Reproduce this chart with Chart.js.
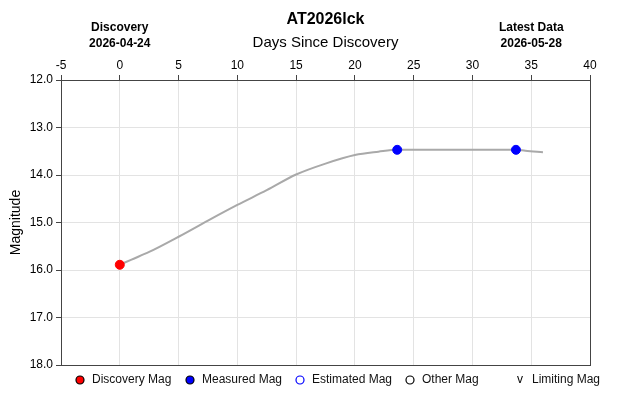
<!DOCTYPE html>
<html>
<head>
<meta charset="utf-8">
<script src="https://cdn.jsdelivr.net/npm/chart.js@4/dist/chart.umd.min.js"></script>
<style>
  html, body { margin: 0; padding: 0; background: #fff; }
  #wrap { width: 630px; height: 405px; }
</style>
</head>
<body>
<div id="wrap"><canvas id="lc" width="630" height="405"></canvas></div>
<script>
    // Light curve values
    const curveDays = [0, 1, 2.5, 5, 7.5, 10, 12.5, 15, 17.5, 20, 22, 23.6, 28, 33.7, 34.5, 36];
    const curveMags = [15.89, 15.78, 15.62, 15.30, 14.96, 14.63, 14.32, 13.99, 13.76, 13.58, 13.51, 13.47, 13.47, 13.47, 13.49, 13.52];

    const discoveryDays = [0];
    const discoveryMags = [15.89];

    const measuredDays = [23.6, 33.7];
    const measuredMags = [13.47, 13.47];

    const xTicks = [-5, 0, 5, 10, 15, 20, 25, 30, 35, 40];
    const yTicks = [12, 13, 14, 15, 16, 17, 18];

    const legendNames = ["Discovery Mag", "Measured Mag", "Estimated Mag", "Other Mag", "Limiting Mag"];

    const objName = "AT2026lck";
    const discoveryDate = "2026-04-24";
    const latestDate = "2026-05-28";
    const latestLabelDay = 35;

    const FONT = "'Liberation Sans', Arial, sans-serif";

    function toPoints(xs, ys) {
      return xs.map((x, i) => ({ x: x, y: ys[i] }));
    }

    // Titles, frame and the bottom legend
    const decorPlugin = {
      id: "decor",
      afterDraw(chart) {
        const c = chart.ctx;
        const area = chart.chartArea;
        const xs = chart.scales.x;
        c.save();

        // frame
        c.strokeStyle = "#444";
        c.lineWidth = 1;
        c.strokeRect(area.left + 0.5, area.top + 0.5, area.right - area.left, area.bottom - area.top);

        c.fillStyle = "#000";
        c.textAlign = "center";
        c.textBaseline = "middle";
        const mid = (area.left + area.right) / 2;
        c.font = "bold 16px " + FONT;
        c.fillText(objName, mid, 20);
        c.font = "15px " + FONT;
        c.fillText("Days Since Discovery", mid, 43);

        c.font = "bold 12px " + FONT;
        const dx = xs.getPixelForValue(0);
        c.fillText("Discovery", dx, 28);
        c.fillText(discoveryDate, dx, 44);
        const lx = xs.getPixelForValue(latestLabelDay);
        c.fillText("Latest Data", lx, 28);
        c.fillText(latestDate, lx, 44);

        // legend
        const ly = 380;
        c.font = "12px " + FONT;
        c.textAlign = "left";
        legendNames.forEach((name, i) => {
          const cx = 80 + i * 110;
          c.lineWidth = 1.2;
          if (i === 0 || i === 1) {
            c.beginPath();
            c.arc(cx, ly, 4, 0, Math.PI * 2);
            c.fillStyle = i === 0 ? "#ff0000" : "#0000ff";
            c.fill();
            c.strokeStyle = "#000";
            c.stroke();
          } else if (i === 2 || i === 3) {
            c.beginPath();
            c.arc(cx, ly, 4, 0, Math.PI * 2);
            c.strokeStyle = i === 2 ? "#0000ff" : "#000";
            c.stroke();
          } else {
            c.fillStyle = "#000";
            c.textAlign = "center";
            c.fillText("v", cx, ly);
            c.textAlign = "left";
          }
          c.fillStyle = "#111";
          c.fillText(name, cx + 12, ly);
        });
        c.restore();
      }
    };

    new Chart(document.getElementById("lc").getContext("2d"), {
      type: "scatter",
      data: {
        datasets: [
          {
            label: "curve",
            data: toPoints(curveDays, curveMags),
            showLine: true,
            borderColor: "#a9a9a9",
            borderWidth: 2,
            pointRadius: 0,
            cubicInterpolationMode: "monotone",
            order: 3
          },
          {
            label: "Discovery Mag",
            data: toPoints(discoveryDays, discoveryMags),
            backgroundColor: "#ff0000",
            borderColor: "#ff0000",
            pointRadius: 4.5,
            order: 1
          },
          {
            label: "Measured Mag",
            data: toPoints(measuredDays, measuredMags),
            backgroundColor: "#0000ff",
            borderColor: "#0000ff",
            pointRadius: 4.5,
            order: 2
          }
        ]
      },
      options: {
        responsive: false,
        animation: false,
        layout: { padding: { left: 8, right: 40, top: 0, bottom: 40 } },
        plugins: {
          legend: { display: false },
          tooltip: { enabled: false }
        },
        scales: {
          x: {
            type: "linear",
            position: "top",
            min: -5,
            max: 40,
            afterBuildTicks: (s) => { s.ticks = xTicks.map(v => ({ value: v })); },
            afterFit: (s) => { s.height = 80; },
            grid: { color: "#e3e3e3", tickColor: "#444", tickLength: 5 },
            border: { color: "#444" },
            ticks: { color: "#000", font: { family: FONT, size: 12 }, padding: 2 }
          },
          y: {
            type: "linear",
            reverse: true,
            min: 12,
            max: 18,
            afterBuildTicks: (s) => { s.ticks = yTicks.map(v => ({ value: v })); },
            afterFit: (s) => { s.width = 53; },
            grid: { color: "#e3e3e3", tickColor: "#444", tickLength: 5 },
            border: { color: "#444" },
            ticks: {
              color: "#000",
              font: { family: FONT, size: 12 },
              padding: 3,
              callback: (v) => Number(v).toFixed(1)
            },
            title: {
              display: true,
              text: "Magnitude",
              color: "#000",
              font: { family: FONT, size: 14 },
              padding: 0
            }
          }
        }
      },
      plugins: [decorPlugin]
    });
</script>
</body>
</html>
